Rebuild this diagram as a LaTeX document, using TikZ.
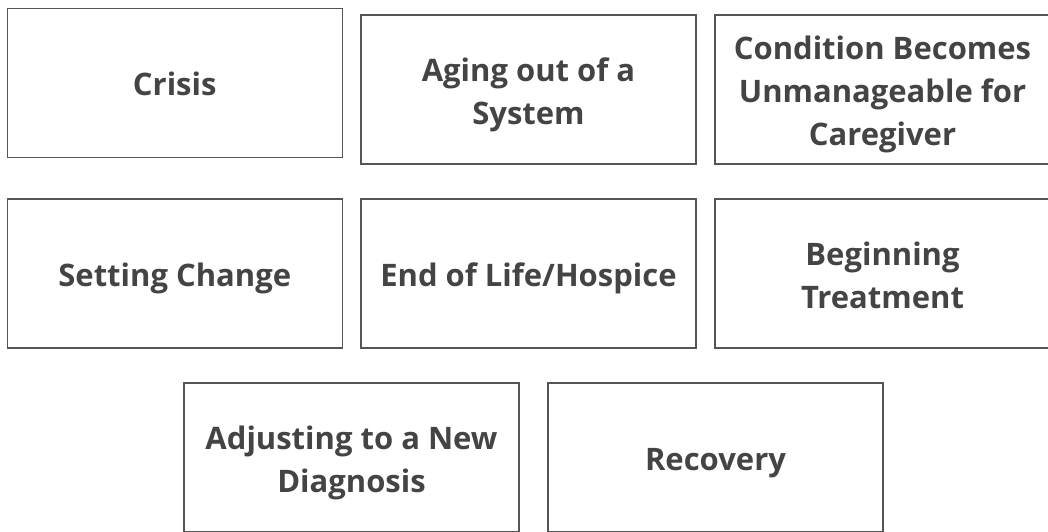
\documentclass[tikz,border=0pt]{standalone}
\usepackage{fontspec}
\setmainfont{Open Sans}
\usetikzlibrary{positioning}
\definecolor{cardtext}{HTML}{444444}
\definecolor{cardline}{HTML}{555555}
\newcommand\cardstrut{\rule[-8.5pt]{0pt}{43pt}}

\begin{document}
\begin{tikzpicture}
        [x=1pt,y=-1pt,
         card/.style={draw=cardline, line width=1.3pt, minimum width=335pt,
           minimum height=149pt, inner sep=0pt, align=center, text=cardtext,
           font=\fontsize{31}{43}\selectfont\bfseries}]
        \useasboundingbox (0,0) rectangle (1048,531);
        \clip (0,0) rectangle (1048,531);
        %\draw[help lines,step=50] (0,0) grid (1048,531);
        \node[card] (crisis) at (174.75,82.75) {\cardstrut Crisis};
        \node[card] (aging) at (528.5,89.5) {\cardstrut Aging out of a\\System\cardstrut};
        \node[card] (unmanage) at (882.5,89.5) {\cardstrut Condition Becomes\\Unmanageable for\\Caregiver\cardstrut};
        \node[card] (setting) at (174.75,273.5) {\cardstrut Setting Change};
        \node[card] (endlife) at (528.5,273.5) {\cardstrut End of Life/Hospice};
        \node[card] (treat) at (882.5,273.5) {\cardstrut Beginning\\Treatment\cardstrut};
        \node[card] (diag) at (351.5,457.5) {\cardstrut Adjusting to a New\\Diagnosis\cardstrut};
        \node[card] (recov) at (715.5,457.5) {\cardstrut Recovery};
      \end{tikzpicture}
\end{document}
